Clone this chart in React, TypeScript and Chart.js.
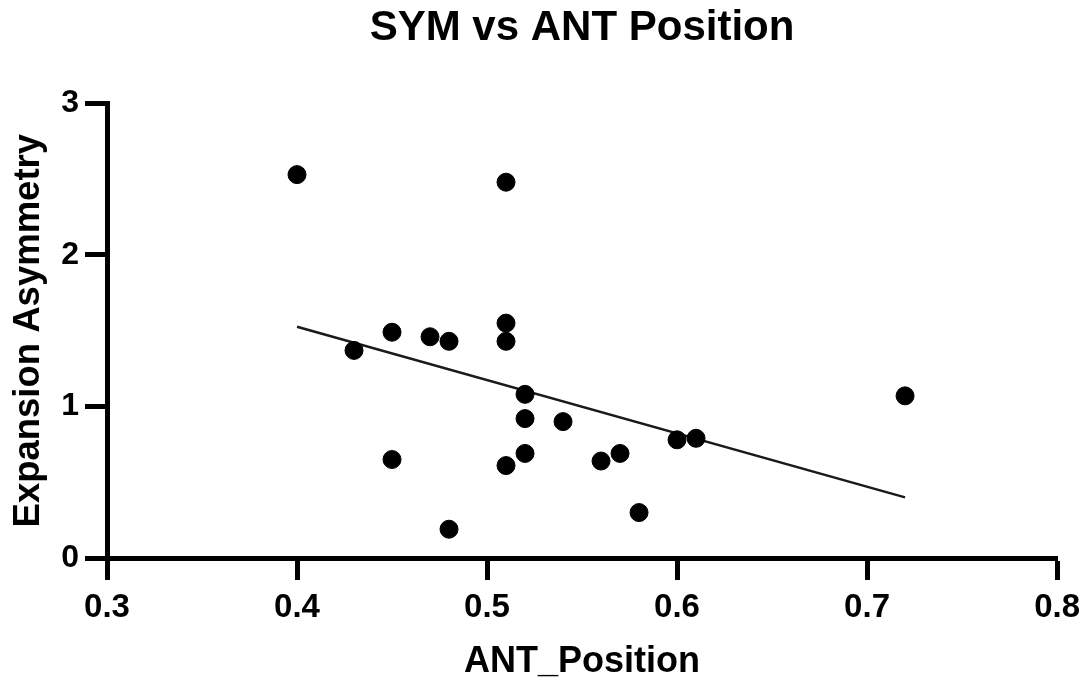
import React, { useEffect, useRef } from "react";
import { Chart, registerables } from "chart.js";

Chart.register(...registerables);

const antPosition = [0.40, 0.51, 0.45, 0.47, 0.48, 0.43, 0.51, 0.51, 0.52, 0.52, 0.54, 0.45, 0.51, 0.52, 0.56, 0.57, 0.60, 0.61, 0.72, 0.58, 0.48];
const expansionAsymmetry = [2.53, 2.48, 1.49, 1.46, 1.43, 1.37, 1.55, 1.43, 1.08, 0.92, 0.90, 0.65, 0.61, 0.69, 0.64, 0.69, 0.78, 0.79, 1.07, 0.30, 0.19];
const fitX = [0.40, 0.72];
const fitY = [1.526, 0.40];
const xTicks = [0.3, 0.4, 0.5, 0.6, 0.7, 0.8];
const yTicks = [0, 1, 2, 3];

const FONT = "'Liberation Sans', Arial, Helvetica, sans-serif";

export default function App() {
  const ref = useRef<HTMLCanvasElement | null>(null);
  useEffect(() => {
    document.body.style.margin = "0";
    const canvas = ref.current;
    if (!canvas) return;
    const chart = new Chart(canvas, {
      type: "scatter",
      data: {
        datasets: [
          {
            type: "line",
            data: fitX.map((x, i) => ({ x, y: fitY[i] })),
            borderColor: "#1a1a1a",
            borderWidth: 2.5,
            pointRadius: 0,
            fill: false,
            order: 2,
          },
          {
            type: "scatter",
            data: antPosition.map((x, i) => ({ x, y: expansionAsymmetry[i] })),
            backgroundColor: "#000",
            borderColor: "#000",
            pointRadius: 9,
            pointHoverRadius: 9,
            order: 1,
          },
        ],
      },
      options: {
        responsive: false,
        animation: false,
        maintainAspectRatio: false,
        layout: { padding: { top: 0, left: 0, right: 28, bottom: 0 } },
        plugins: {
          legend: { display: false },
          tooltip: { enabled: false },
          title: {
            display: true,
            fullSize: false,
            text: "SYM vs ANT Position",
            color: "#000",
            font: { family: FONT, size: 42, weight: "bold" },
            padding: { top: 3, bottom: 50 },
          },
        },
        scales: {
          x: {
            type: "linear",
            min: 0.3,
            max: 0.8,
            afterBuildTicks: (scale: any) => {
              scale.ticks = xTicks.map((v) => ({ value: v }));
            },
            afterFit: (scale: any) => {
              scale.height = 130;
            },
            ticks: {
              color: "#000",
              font: { family: FONT, size: 33, weight: "bold" },
              padding: 8,
              callback: (v: any) => Number(v).toFixed(1),
            },
            grid: {
              display: true,
              drawOnChartArea: false,
              drawTicks: true,
              tickLength: 22,
              tickWidth: 5,
              tickColor: "#000",
            },
            border: { display: true, width: 5, color: "#000" },
            title: {
              display: true,
              text: "ANT_Position",
              color: "#000",
              font: { family: FONT, size: 36, weight: "bold" },
              padding: { top: 0, bottom: 4 },
            },
          },
          y: {
            type: "linear",
            min: 0,
            max: 3,
            afterBuildTicks: (scale: any) => {
              scale.ticks = yTicks.map((v) => ({ value: v }));
            },
            afterFit: (scale: any) => {
              scale.width = 107;
            },
            ticks: {
              color: "#000",
              font: { family: FONT, size: 32, weight: "bold" },
              padding: 6,
              callback: (v: any) => String(v),
            },
            grid: {
              display: true,
              drawOnChartArea: false,
              drawTicks: true,
              tickLength: 22,
              tickWidth: 5,
              tickColor: "#000",
            },
            border: { display: true, width: 5, color: "#000" },
            title: {
              display: true,
              text: "Expansion Asymmetry",
              color: "#000",
              font: { family: FONT, size: 36.5, weight: "bold" },
              padding: { top: 7, bottom: 0 },
            },
          },
        },
      },
    });
    return () => chart.destroy();
  }, []);
  return (
    <div style={{ width: 1088, height: 688, background: "#fff" }}>
      <canvas ref={ref} width={1088} height={688} style={{ display: "block" }} />
    </div>
  );
}
